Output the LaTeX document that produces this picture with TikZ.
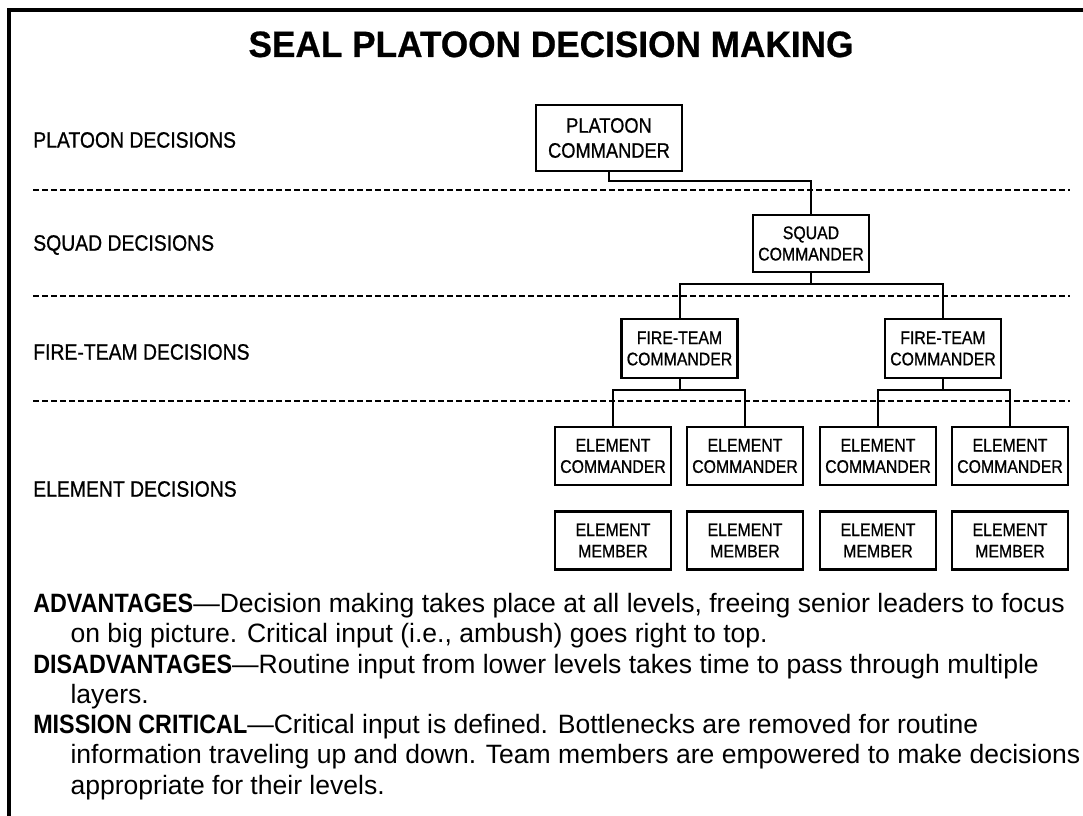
\documentclass[tikz,border=0pt]{standalone}
\usepackage{fontspec}
\setmainfont[BoldFeatures={FakeStretch=0.88}]{Liberation Sans}
\newfontfamily\condfont[FakeStretch=0.87,FakeBold=0.8]{Liberation Sans}
\newfontfamily\headfont[FakeStretch=0.96,FakeBold=0.6]{Liberation Sans}
\usetikzlibrary{positioning}

\begin{document}
\begin{tikzpicture}[
    x=0.75pt,
    y=-0.75pt,
    box/.style={draw,
        line width=1.8pt,
        align=center,
        inner sep=0pt,
        minimum width=87pt,
        minimum height=43.5pt,
        font=\condfont\fontsize{13.65}{16}\selectfont},
    level/.style={anchor=west,
        inner sep=0pt,
        font=\condfont\fontsize{16.7}{20}\selectfont},
    divider/.style={line width=1.5pt,
        dash pattern=on 4.5pt off 2.25pt},
    link/.style={line width=1.5pt}]

\useasboundingbox (0,0) rectangle (1083,816);

% Frame
\draw[line width=2.6pt] (9,816) -- (9,10) -- (1083,10);

% Title
\node[anchor=base,
    inner sep=0pt,
    font=\headfont\bfseries\fontsize{27.5}{30}\selectfont] (title) at (551,57)
    {SEAL PLATOON DECISION MAKING};

% Level labels
\node[level] (lplatoon) at (33,140) {PLATOON DECISIONS};
\node[level] (lsquad) at (33,245) {SQUAD DECISIONS};
\node[level] (lfire) at (33,352) {FIRE-TEAM DECISIONS};
\node[level] (lelement) at (33,489) {ELEMENT DECISIONS};

% Dividers
\draw[divider] (33,190) -- (1070,190);
\draw[divider] (33,296) -- (1070,296);
\draw[divider] (33,401) -- (1070,401);

% Platoon commander
\node[box,
    minimum width=109.5pt,
    minimum height=49.5pt,
    font=\condfont\fontsize{15.75}{18.75}\selectfont] (plat) at (609,138)
    {PLATOON\\COMMANDER};

% Squad commander
\node[box, minimum height=42.75pt] (squad) at (811,243.5) {SQUAD\\COMMANDER};

% Fire-team commanders
\node[box, minimum height=44.25pt] (fire1) at (679.5,348.5) {FIRE-TEAM\\COMMANDER};
\node[box, minimum height=44.25pt] (fire2) at (943,348.5) {FIRE-TEAM\\COMMANDER};

% Element commanders
\node[box] (elcom1) at (613,456) {ELEMENT\\COMMANDER};
\node[box] (elcom2) at (745,456) {ELEMENT\\COMMANDER};
\node[box] (elcom3) at (878,456) {ELEMENT\\COMMANDER};
\node[box] (elcom4) at (1010,456) {ELEMENT\\COMMANDER};

% Element members
\node[box] (elmem1) at (613,540.5) {ELEMENT\\MEMBER};
\node[box] (elmem2) at (745,540.5) {ELEMENT\\MEMBER};
\node[box] (elmem3) at (878,540.5) {ELEMENT\\MEMBER};
\node[box] (elmem4) at (1010,540.5) {ELEMENT\\MEMBER};

% Links
\draw[link] (plat.south) -- ++(0,9) -| (squad.north);
\draw[link] (squad.south) -- ++(0,11) coordinate (sqfork);
\draw[link] (fire1.north) |- (sqfork) -| (fire2.north);
\draw[link] (fire1.south) -- ++(0,11) coordinate (fork1);
\draw[link] (elcom1.north) |- (fork1) -| (elcom2.north);
\draw[link] (fire2.south) -- ++(0,11) coordinate (fork2);
\draw[link] (elcom3.north) |- (fork2) -| (elcom4.north);

% Notes
\node[anchor=north west,
    inner sep=0pt,
    align=left,
    font=\fontsize{19.9}{22.7}\selectfont] (notes) at (33,593)
    {\textbf{ADVANTAGES}—Decision making takes place at all levels, freeing senior leaders to focus\\
    \hspace*{28pt}on big picture. Critical input (i.e., ambush) goes right to top.\\
    \textbf{DISADVANTAGES}—Routine input from lower levels takes time to pass through multiple\\
    \hspace*{28pt}layers.\\
    \textbf{MISSION CRITICAL}—Critical input is defined. Bottlenecks are removed for routine\\
    \hspace*{28pt}information traveling up and down. Team members are empowered to make decisions\\
    \hspace*{28pt}appropriate for their levels.};

\end{tikzpicture}
\end{document}
